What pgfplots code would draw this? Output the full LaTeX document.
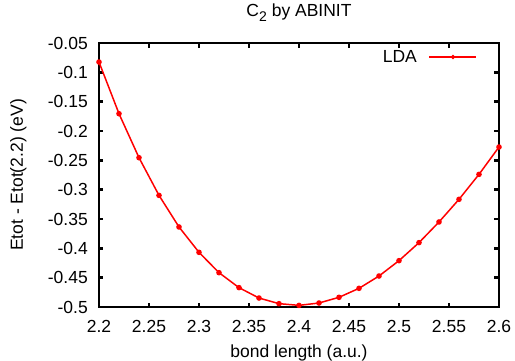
\documentclass[border=0pt]{standalone}
\usepackage{fontspec}
\setmainfont{Liberation Sans}
\usepackage{pgfplots}
\pgfplotsset{compat=1.18}
\newcommand{\fs}{\fontsize{17.5bp}{21bp}\selectfont}
\definecolor{gpred}{RGB}{255,0,0}
\begin{document}
\begin{tikzpicture}
\begin{axis}[
  at={(0,0)}, anchor=south west,
  scale only axis, width=400bp, height=264bp,
  xmin=2.2, xmax=2.6, ymin=-0.5, ymax=-0.05,
  xtick={2.2,2.25,2.3,2.35,2.4,2.45,2.5,2.55,2.6},
  xticklabels={2.2,2.25,2.3,2.35,2.4,2.45,2.5,2.55,2.6},
  ytick={-0.5,-0.45,-0.4,-0.35,-0.3,-0.25,-0.2,-0.15,-0.1,-0.05},
  yticklabels={-0.5,-0.45,-0.4,-0.35,-0.3,-0.25,-0.2,-0.15,-0.1,-0.05},
  minor tick num=0,
  tick align=inside,
  xtick pos=both, ytick pos=both,
  xticklabel pos=bottom, yticklabel pos=left,
  major tick length=4.5bp,
  every tick/.style={line width=2.5bp, black},
  axis line style={line width=2.5bp, black},
  xticklabel style={font=\fs, anchor=base, inner sep=0pt, yshift=-25bp},
  yticklabel style={font=\fs, anchor=east, inner sep=0pt, xshift=-11bp},
  title={C\raisebox{-5bp}{\fontsize{14bp}{16bp}\selectfont 2} by ABINIT},
  title style={font=\fs, at={(axis description cs:0.5,1.0795)}, anchor=base, inner sep=0pt},
  xlabel={bond length (a.u.)},
  xlabel style={font=\fs, at={(axis description cs:0.5,-0.1894)}, anchor=base, inner sep=0pt},
  ylabel={Etot - Etot(2.2) (eV)},
  ylabel style={font=\fs, at={(axis description cs:-0.19,0.5)}, anchor=base, inner sep=0pt},
  legend plot pos=right,
  legend style={draw=none, fill=none, font=\fs, inner sep=0pt, outer sep=0pt,
    nodes={inner sep=0pt}, column sep=12bp,
    at={(axis description cs:0.945,0.9727)}, anchor=north east},
  legend image code/.code={\draw[mark repeat=2,mark phase=2,#1,line width=1.1bp,mark size=1.6bp] plot coordinates {(0bp,0bp) (23.5bp,0bp) (47bp,0bp)};},
]
\addplot[color=gpred, line width=1.5bp, mark=*, mark size=2bp, mark options={solid}] coordinates {
(2.20,-0.0824) (2.22,-0.1705) (2.24,-0.2455) (2.26,-0.3097) (2.28,-0.3636)
(2.30,-0.4068) (2.32,-0.4415) (2.34,-0.4670) (2.36,-0.4847) (2.38,-0.4943)
(2.40,-0.4972) (2.42,-0.4932) (2.44,-0.4835) (2.46,-0.4682) (2.48,-0.4472)
(2.50,-0.4210) (2.52,-0.3903) (2.54,-0.3551) (2.56,-0.3165) (2.58,-0.2739)
(2.60,-0.2273)
};
\addlegendentry{LDA}
\end{axis}
\pgfresetboundingbox
\path[use as bounding box] (-99bp,-54bp) rectangle (416bp,307bp);
\end{tikzpicture}
\end{document}
